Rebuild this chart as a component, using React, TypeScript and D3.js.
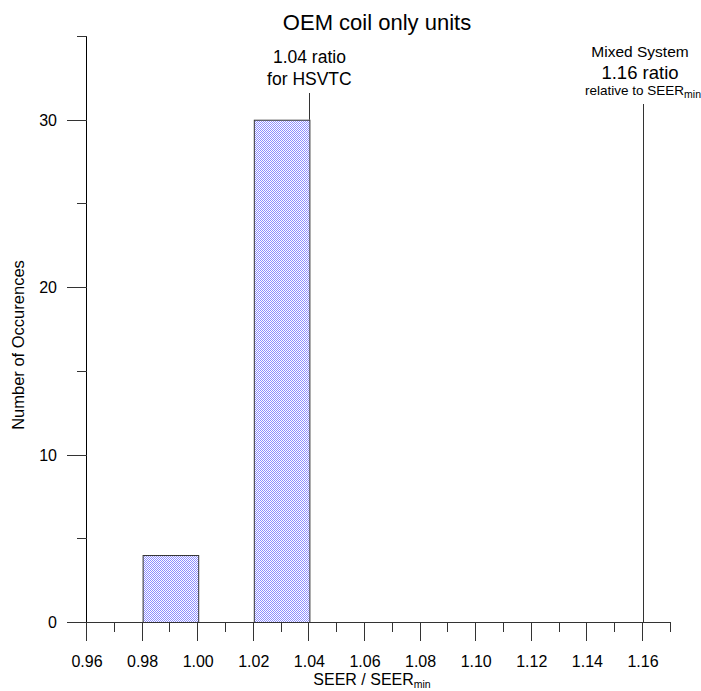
import React from "react";
import * as d3 from "d3";

const binStarts = [0.98, 1.02];
const binEnds = [1.0, 1.04];
const counts = [4, 30];
const xTickValues = [0.96, 0.97, 0.98, 0.99, 1.0, 1.01, 1.02, 1.03, 1.04, 1.05, 1.06, 1.07, 1.08, 1.09, 1.1, 1.11, 1.12, 1.13, 1.14, 1.15, 1.16, 1.17];
const xMajorLabels = ["0.96", "0.98", "1.00", "1.02", "1.04", "1.06", "1.08", "1.10", "1.12", "1.14", "1.16"];
const yTickValues = [0, 5, 10, 15, 20, 25, 30, 35];
const yMajorLabels = ["0", "10", "20", "30"];
const hsvtcRatio = 1.04;
const mixedRatio = 1.16;

const W = 701;
const H = 691;
const FONT = "Liberation Sans, Arial, Helvetica, sans-serif";

export default function App() {
  const x = d3.scaleLinear().domain([0.96, 1.16]).range([87, 643]);
  const y = d3.scaleLinear().domain([0, 35]).range([622, 36]);
  const axisColor = "#333";
  const y0 = y(0);
  const x0 = x(0.96);

  return (
    <svg width={W} height={H} style={{ position: "absolute", left: 0, top: 0, background: "#fff" }} fontFamily={FONT}>
      <defs>
        <pattern id="dots" width={2} height={2} patternUnits="userSpaceOnUse">
          <rect width={2} height={2} fill="#ffffff" />
          <rect x={0} y={0} width={1} height={1} fill="#8e8eff" />
          <rect x={1} y={1} width={1} height={1} fill="#8e8eff" />
        </pattern>
      </defs>
      <rect width={W} height={H} fill="#fff" />

      {/* title */}
      <text x={377} y={30} textAnchor="middle" fontSize={22} fill="#000">OEM coil only units</text>

      {/* bars */}
      {counts.map((c, i) => (
        <rect key={i}
          x={x(binStarts[i]) + 0.5}
          y={y(c) + 0.5}
          width={x(binEnds[i]) - x(binStarts[i])}
          height={y0 - y(c)}
          fill="url(#dots)" stroke="#333" strokeWidth={1} />
      ))}

      {/* reference lines */}
      <line x1={Math.round(x(hsvtcRatio)) + 0.5} x2={Math.round(x(hsvtcRatio)) + 0.5} y1={93} y2={y(counts[1])} stroke="#333" />
      <line x1={Math.round(x(mixedRatio)) + 0.5} x2={Math.round(x(mixedRatio)) + 0.5} y1={104} y2={y0} stroke="#333" />

      <text x={x(hsvtcRatio)} y={63} textAnchor="middle" fontSize={17.5} fill="#000">1.04 ratio</text>
      <text x={x(hsvtcRatio)} y={85} textAnchor="middle" fontSize={17.5} fill="#000">for HSVTC</text>

      <text x={x(mixedRatio) - 3} y={57} textAnchor="middle" fontSize={15.5} fill="#000">Mixed System</text>
      <text x={x(mixedRatio) - 3} y={79} textAnchor="middle" fontSize={18.5} fill="#000">1.16 ratio</text>
      <text x={x(mixedRatio)} y={95} textAnchor="middle" fontSize={13.5} fill="#000">
        relative to SEER<tspan fontSize={10.5} dy={3}>min</tspan>
      </text>

      {/* y axis */}
      <line x1={x0 - 0.5} x2={x0 - 0.5} y1={y(35)} y2={y0 + 19} stroke="#000" />
      {yTickValues.map((v) => {
        const major = v % 10 === 0;
        const yy = Math.round(y(v)) + 0.5;
        return (
          <line key={v} x1={x0 - (major ? 20 : 10)} x2={x0} y1={yy} y2={yy} stroke={axisColor} />
        );
      })}
      {yMajorLabels.map((l) => (
        <text key={l} x={57} y={y(+l) + 6} textAnchor="end" fontSize={16} fill="#000">{l}</text>
      ))}

      {/* x axis */}
      <line x1={x0 - 20} x2={x(1.17)} y1={Math.round(y0) + 0.5} y2={Math.round(y0) + 0.5} stroke={axisColor} />
      {xTickValues.map((v, i) => {
        const major = i % 2 === 0;
        const xx = Math.round(x(v)) - 0.5;
        return (
          <line key={i} x1={xx} x2={xx} y1={y0} y2={y0 + (major ? 19 : 10)} stroke={axisColor} />
        );
      })}
      {xMajorLabels.map((l) => (
        <text key={l} x={x(+l)} y={667} textAnchor="middle" fontSize={16} fill="#000">{l}</text>
      ))}

      <text x={372} y={685} textAnchor="middle" fontSize={16} fill="#000">
        SEER / SEER<tspan fontSize={10.5} dy={3}>min</tspan>
      </text>
      <text transform={`translate(24, ${345}) rotate(-90)`} textAnchor="middle" fontSize={16.5} fill="#000">Number of Occurences</text>
    </svg>
  );
}
